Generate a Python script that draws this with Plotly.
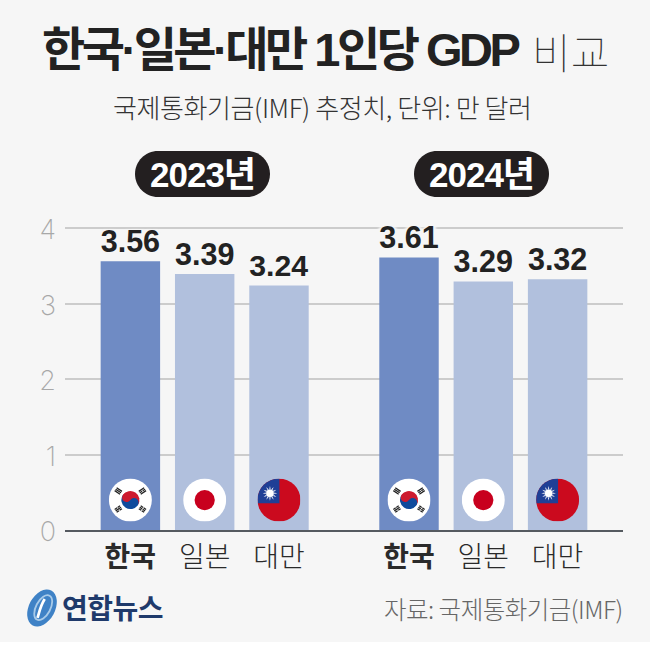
import base64
import plotly.graph_objects as go

KR_FONT = "Noto Sans CJK KR"
NUM_FONT = "Liberation Sans, Noto Sans CJK KR"
years = ["2023년", "2024년"]
countries = ["한국", "일본", "대만"]
values_2023 = [3.56, 3.39, 3.24]
values_2024 = [3.61, 3.29, 3.32]
slots = [0, 1, 2, 3.75, 4.75, 5.75]
tick_labels = ["<b>한국</b>", "일본", "대만", "<b>한국</b>", "일본", "대만"]
y_ticks = [0, 1, 2, 3, 4]
values = values_2023 + values_2024
KR = "#6f8bc4"
OT = "#b1c0dd"
BG = "#f6f6f6"
colors = [KR, OT, OT, KR, OT, OT]
labels = [f"{v:.2f}" for v in values]
W, H = 650, 653
PL, PR, PT, PB = 65, 623, 225, 530
PW, PH = PR - PL, PB - PT
X = lambda p: (p - PL) / PW
Y = lambda p: (PB - p) / PH


def uri(svg):
    return "data:image/svg+xml;base64," + base64.b64encode(svg.encode()).decode()


def tri(cx, cy, ang, pat):
    out = f'<g transform="translate({cx} {cy}) rotate({ang})">'
    for i, full in enumerate(pat):
        x = -11 + i * 8
        if full:
            out += f'<rect x="{x}" y="-15" width="6" height="30"/>'
        else:
            out += f'<rect x="{x}" y="-15" width="6" height="13.5"/><rect x="{x}" y="1.5" width="6" height="13.5"/>'
    return out + "</g>"


kor = ('<svg xmlns="http://www.w3.org/2000/svg" viewBox="0 0 200 200"><circle cx="100" cy="100" r="100" fill="#fff"/>'
       '<g transform="rotate(33.7 100 100)"><path d="M58 100a42 42 0 0 1 84 0z" fill="#cd1a2e"/><path d="M58 100a42 42 0 0 0 84 0z" fill="#0f4a9c"/>'
       '<circle cx="79" cy="100" r="21" fill="#cd1a2e"/><circle cx="121" cy="100" r="21" fill="#0f4a9c"/></g>'
       '<g fill="#222">' + tri(44, 58, -56, [1, 1, 1]) + tri(156, 58, 56, [1, 0, 1]) + tri(44, 142, 56, [0, 1, 0]) + tri(156, 142, -56, [0, 0, 0]) + '</g></svg>')
jpn = ('<svg xmlns="http://www.w3.org/2000/svg" viewBox="0 0 200 200"><circle cx="100" cy="100" r="100" fill="#fff"/>'
       '<circle cx="100" cy="100" r="47" fill="#c8001e"/></svg>')
rays = "".join(f'<path d="M58 35 L65 69 L51 69 Z" fill="#fff" transform="rotate({i*30} 58 69)"/>' for i in range(12))
twn = ('<svg xmlns="http://www.w3.org/2000/svg" viewBox="0 0 200 200"><defs><clipPath id="c"><circle cx="100" cy="100" r="100"/></clipPath></defs>'
       '<g clip-path="url(#c)"><rect width="200" height="200" fill="#cb0a1e"/><rect width="102" height="115" fill="#1f3f96"/>'
       + rays + '<circle cx="58" cy="69" r="19" fill="#fff" stroke="#1f3f96" stroke-width="2"/></g></svg>')
logo = ('<svg xmlns="http://www.w3.org/2000/svg" viewBox="0 0 40 44"><ellipse cx="20" cy="22" rx="14.5" ry="22" transform="rotate(28 20 22)" fill="#3f82c6"/>'
        '<ellipse cx="21" cy="21" rx="8" ry="15" transform="rotate(28 20 22)" fill="none" stroke="#a9cbe9" stroke-width="2"/>'
        '<path d="M23 12 C18 20 17 27 15 33" stroke="#fff" stroke-width="3" fill="none"/></svg>')
flags = [kor, jpn, twn, kor, jpn, twn]

fig = go.Figure(go.Bar(
    x=slots, y=values, width=0.8, marker=dict(color=colors, line_width=0),
    text=labels, textposition="outside", cliponaxis=False,
    textfont=dict(family=NUM_FONT, size=33, color="#222222", weight=700,
                  shadow=f"3px 0 2px {BG}, -3px 0 2px {BG}"),
    hoverinfo="skip",
))

images = [dict(source=uri(f), xref="x", yref="y", x=s, y=0.397, sizex=0.58, sizey=0.57,
               xanchor="center", yanchor="middle", layer="above", sizing="contain")
          for s, f in zip(slots, flags)]
images.append(dict(source=uri(logo), xref="paper", yref="paper", x=X(24), y=Y(587),
                   sizex=36 / PW, sizey=42 / PH, xanchor="left", yanchor="top", layer="above"))


def tight(text, px):
    return f'<span style="letter-spacing:{px}px">{text}</span>'


def note(text, px, py, size, color="#222222", anchor="center", weight=400, family=KR_FONT):
    return dict(text=text, xref="paper", yref="paper", x=X(px), y=Y(py),
                xanchor=anchor, yanchor="middle", showarrow=False,
                font=dict(family=family, size=size, color=color, weight=weight))


annotations = [
    note(tight("한국·일본·대만 1인당 GDP", -3.5), 40, 49, 47, anchor="left", weight=700, family=NUM_FONT),
    note("비교", 570, 50, 42, color="#333333", weight=100),
    note(tight("국제통화기금(IMF) 추정치, 단위: 만 달러", -0.4), 322, 107, 26, color="#333333", weight=300),
    note(tight(years[0], -1), 202, 174, 35, color="#ffffff", weight=700, family=NUM_FONT),
    note(tight(years[1], -1), 481, 174, 35, color="#ffffff", weight=700, family=NUM_FONT),
    note(tight("연합뉴스", -0.5), 60, 607, 28, color="#1f3a6b", anchor="left", weight=700),
    note(tight("자료: 국제통화기금(IMF)", -0.5), 625, 608, 24.5, color="#666666", anchor="right", weight=300),
]


def pill(x0, x1, y0, y1):
    r = (y1 - y0) / 2
    k = 0.5523 * r
    pts = (f"M {X(x0 + r)} {Y(y0)} L {X(x1 - r)} {Y(y0)} "
           f"C {X(x1 - r + k)} {Y(y0)} {X(x1)} {Y(y0 + r - k)} {X(x1)} {Y(y0 + r)} "
           f"C {X(x1)} {Y(y0 + r + k)} {X(x1 - r + k)} {Y(y1)} {X(x1 - r)} {Y(y1)} "
           f"L {X(x0 + r)} {Y(y1)} "
           f"C {X(x0 + r - k)} {Y(y1)} {X(x0)} {Y(y0 + r + k)} {X(x0)} {Y(y0 + r)} "
           f"C {X(x0)} {Y(y0 + r - k)} {X(x0 + r - k)} {Y(y0)} {X(x0 + r)} {Y(y0)} Z")
    return dict(type="path", xref="paper", yref="paper", path=pts, fillcolor="#231f20", line_width=0, layer="below")


shapes = [
    dict(type="rect", xref="paper", yref="paper", x0=X(0), x1=X(650), y0=Y(642), y1=Y(0), fillcolor=BG,
         line_width=0, layer="below"),
    pill(135, 270, 151, 197),
    pill(414, 549, 151, 197),
]

fig.update_layout(
    width=W, height=H, margin=dict(l=PL, r=W - PR, t=PT, b=H - PB, pad=0),
    paper_bgcolor="#ffffff", plot_bgcolor="rgba(0,0,0,0)", showlegend=False,
    font=dict(family=KR_FONT), images=images, annotations=annotations, shapes=shapes,
    xaxis=dict(range=[-0.88, 6.63], tickmode="array", tickvals=slots, ticktext=tick_labels,
               ticks="", showgrid=False, zeroline=False, showline=True, linecolor="#555a60", linewidth=2,
               tickfont=dict(family=KR_FONT, size=28, color="#2a2a2a", weight=300), ticklabelstandoff=1),
    yaxis=dict(range=[0, PH / 75.5], tickmode="array", tickvals=y_ticks, showgrid=True, gridcolor="#cccccc", gridwidth=1.5,
               zeroline=False, showline=False, ticks="", ticklabelstandoff=8, ticklabelshift=2,
               tickfont=dict(family="Inter", size=27, color="#a8a8a8", weight=200)),
)
fig.write_html("out.html", config=dict(displayModeBar=False),
               post_script="document.body.style.margin='0';document.body.style.overflow='hidden';")
